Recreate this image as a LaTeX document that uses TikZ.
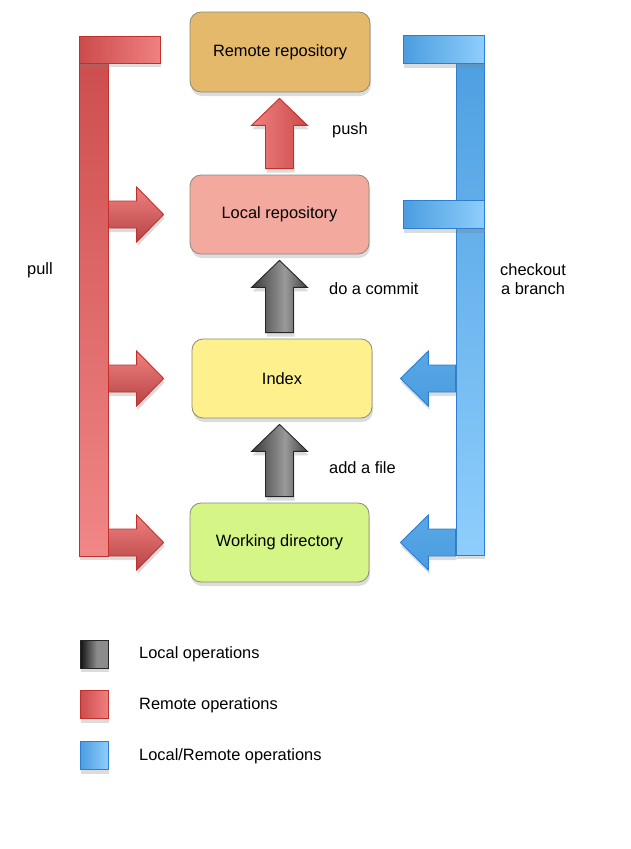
\documentclass[tikz,border=0pt]{standalone}
\usepackage{fontspec}
\setmainfont{Liberation Sans}
\usetikzlibrary{calc,shadows}
\definecolor{remotefill}{HTML}{E4B96B}
\definecolor{localfill}{HTML}{F3A99E}
\definecolor{indexfill}{HTML}{FEF08C}
\definecolor{wdfill}{HTML}{D5F686}
\definecolor{boxline}{HTML}{8A8A7A}
\definecolor{reddark}{HTML}{CC4B4B}
\definecolor{redlight}{HTML}{F08080}
\definecolor{redline}{HTML}{C0302C}
\definecolor{bluedark}{HTML}{4B9DE0}
\definecolor{bluelight}{HTML}{8ECEFC}
\definecolor{blueline}{HTML}{2C7FD0}
\definecolor{gA}{HTML}{3A3A3A}
\definecolor{gB}{HTML}{9A9A9A}
\definecolor{gC}{HTML}{404040}
\definecolor{gD}{HTML}{111111}
\definecolor{gE}{HTML}{8C8C8C}
\pgfdeclarehorizontalshading{grayarrshade}{100bp}{color(0bp)=(gA); color(25bp)=(gA); color(55bp)=(gB); color(75bp)=(gC); color(100bp)=(gC)}
\pgfdeclarehorizontalshading{graylegshade}{100bp}{color(0bp)=(gD); color(25bp)=(gD); color(55bp)=(gE); color(70bp)=(gE); color(100bp)=(gE)}
\newcommand\varrow[3]{\path[#1] let \p1=(#2), \p2=(#3) in
  (\x1-14pt,\y1) -- (\x1-14pt,\y2-27pt) -- (\x1-28pt,\y2-27pt) -- (\x1,\y2)
  -- (\x1+28pt,\y2-27pt) -- (\x1+14pt,\y2-27pt) -- (\x1+14pt,\y1) -- cycle;}
\newcommand\harrow[4]{\path[#1] let \p1=(#2), \p2=(#3) in
  (\x1,\y1+13.5pt) -- (\x2-#4,\y1+13.5pt) -- (\x2-#4,\y1+27.5pt) -- (\x2,\y1)
  -- (\x2-#4,\y1-27.5pt) -- (\x2-#4,\y1-13.5pt) -- (\x1,\y1-13.5pt) -- cycle;}
\begin{document}
\begin{tikzpicture}[x=1pt,y=-1pt,
  every node/.style={font=\fontsize{16.4}{19}\selectfont, text=black},
  softshadow/.style={drop shadow={opacity=0.28, shadow xshift=1pt, shadow yshift=-4pt}},
  repobox/.style={draw=boxline, line width=0.8pt, rounded corners=11pt,
     minimum width=180pt, minimum height=80pt, softshadow},
  redvbar/.style={draw=redline, line width=0.9pt, top color=reddark, bottom color=redlight!95!white, softshadow, inner sep=0pt},
  redhbar/.style={draw=redline, line width=0.9pt, left color=reddark, right color=redlight, softshadow, inner sep=0pt},
  bluevbar/.style={draw=blueline, line width=0.9pt, top color=bluedark, bottom color=bluelight, softshadow, inner sep=0pt},
  bluehbar/.style={draw=blueline, line width=0.9pt, left color=bluedark, right color=bluelight, softshadow, inner sep=0pt},
  redarrowh/.style={draw=redline, line width=0.9pt, top color=redlight, bottom color=reddark!90!black, softshadow},
  redarrowv/.style={draw=redline, line width=0.9pt, left color=redlight, right color=reddark, softshadow},
  bluearrow/.style={draw=blueline, line width=0.9pt, top color=bluedark!80!bluelight, bottom color=bluedark, softshadow},
  grayarrow/.style={draw=black!85, line width=0.9pt, shading=grayarrshade, softshadow},
  label/.style={inner sep=0pt},
  legendsq/.style={minimum width=28pt, minimum height=28pt, inner sep=0pt, line width=0.9pt, softshadow}
]
\useasboundingbox (0,0) rectangle (631,849);

% bars
\node[redvbar, minimum width=29pt, minimum height=520pt] (pullbar) at (93.5,296) {};
\node[redhbar, minimum width=81pt, minimum height=27pt] (pulltop) at (119.5,49.5) {};
\node[bluevbar, minimum width=28pt, minimum height=520pt] (checkbar) at (470,295) {};
\node[bluehbar, minimum width=81pt, minimum height=28pt] (checktop) at (443.5,49.5) {};
\node[bluehbar, minimum width=81pt, minimum height=28pt] (checkmid) at (443.5,214.5) {};

% boxes
\node[repobox, fill=remotefill] (remote) at (280,52) {Remote repository};
\node[repobox, fill=localfill, minimum width=179pt, minimum height=79pt] (local) at (279.5,214.5) {Local repository};
\node[repobox, fill=indexfill, minimum height=79pt] (index) at (282,378.5) {Index};
\node[repobox, fill=wdfill, minimum width=179pt, minimum height=79pt] (wd) at (279.5,542.5) {Working directory};

% vertical arrows
\varrow{redarrowv}{$(local.north)+(0,-6)$}{$(remote.south)+(0,6)$}
\varrow{grayarrow}{$(index.north -| local.south)+(0,-6)$}{$(local.south)+(0,6)$}
\varrow{grayarrow}{$(wd.north)+(0,-6)$}{$(index.south -| wd.north)+(0,6)$}

% pull arrows
\harrow{redarrowh}{pullbar.east |- local.west}{$(local.west)+(-26,0)$}{27pt}
\harrow{redarrowh}{pullbar.east |- index.west}{$(index.west)+(-28,0)$}{27pt}
\harrow{redarrowh}{pullbar.east |- wd.west}{$(wd.west)+(-26,0)$}{27pt}

% checkout arrows
\harrow{bluearrow}{checkbar.west |- index.east}{$(index.east)+(28,0)$}{-28pt}
\harrow{bluearrow}{checkbar.west |- wd.east}{$(wd.east)+(31,0)$}{-28pt}

% labels
\node[label] (pushlbl) at (350,130) {push};
\node[label, anchor=west] (commitlbl) at (329,289) {do a commit};
\node[label, anchor=west] (addlbl) at (329,468) {add a file};
\node[label] (pulllbl) at (40,270) {pull};
\node[label, align=center] (checklbl) at (533,279.5) {checkout\\a branch};

% legend
\node[legendsq, draw=black!85, shading=graylegshade] (leglocal) at (94,654) {};
\node[legendsq, draw=redline, left color=reddark, right color=redlight] (legremote) at (94,704.5) {};
\node[legendsq, draw=blueline, left color=bluedark, right color=bluelight] (legboth) at (94,755.5) {};
\node[label, anchor=west] (leglocaltxt) at (139,654) {Local operations};
\node[label, anchor=west] (legremotetxt) at (139,705) {Remote operations};
\node[label, anchor=west] (legbothtxt) at (139,756) {Local/Remote operations};
\end{tikzpicture}
\end{document}
